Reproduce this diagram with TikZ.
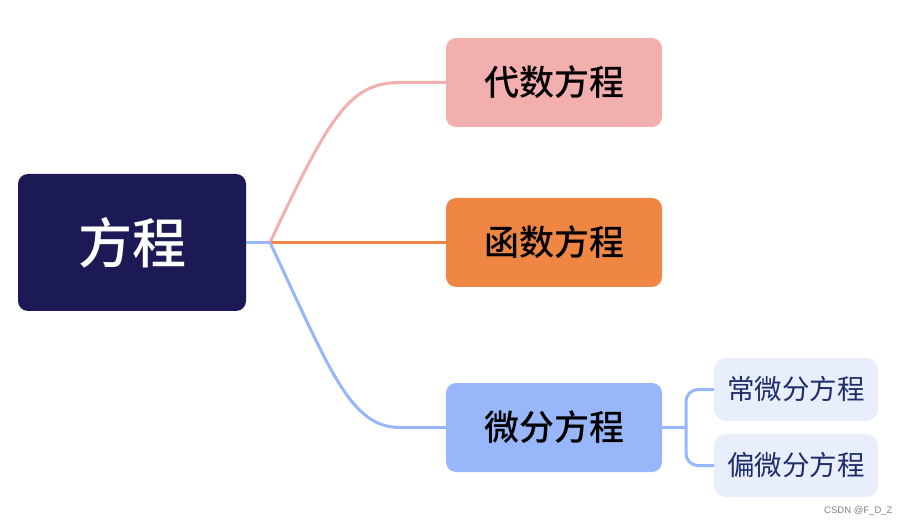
\documentclass[tikz,border=0pt]{standalone}
\usepackage{fontspec}
\setmainfont{Noto Sans CJK SC}
\newfontfamily\cjkmedium{Noto Sans CJK SC Medium}
\setsansfont{Liberation Sans}
\definecolor{rootfill}{HTML}{1B1A55}
\definecolor{algfill}{HTML}{F3AFAD}
\definecolor{funcfill}{HTML}{F08644}
\definecolor{difffill}{HTML}{97B7FA}
\definecolor{subfill}{HTML}{E8EEFC}
\definecolor{subtext}{HTML}{1F2D6B}
\begin{document}
\begin{tikzpicture}[x=1pt,y=-1pt,
    topic/.style={rounded corners=10pt, inner sep=0pt,
      minimum width=216pt, minimum height=89pt,
      font=\cjkmedium\fontsize{35}{40}\selectfont},
    subtopic/.style={rounded corners=12pt, inner sep=0pt, fill=subfill,
      text=subtext, minimum width=164pt, minimum height=63pt,
      font=\fontsize{27.5}{32}\selectfont},
    branch/.style={line width=3pt}]
  \useasboundingbox (0,0) rectangle (910,526);
  \node[fill=rootfill, text=white, rounded corners=10pt, inner sep=0pt,
        minimum width=228pt, minimum height=137pt,
        font=\cjkmedium\fontsize{54}{60}\selectfont] (root) at (132,242.5) {方程};
  \node[topic, fill=algfill] (alg) at (554,82.5) {代数方程};
  \node[topic, fill=funcfill] (func) at (554,242.5) {函数方程};
  \node[topic, fill=difffill] (diff) at (554,427.5) {微分方程};
  \node[subtopic] (ode) at (796,389.5) {常微分方程};
  \node[subtopic] (pde) at (796,465.5) {偏微分方程};
  % main branches
  \coordinate (fork) at (270,242.5);
  \draw[branch, difffill] (root.east) -- (fork);
  \draw[branch, algfill] (fork) .. controls (330,115) and (350,82.5) .. (400,82.5) -- (alg.west);
  \draw[branch, funcfill] (fork) -- (func.west);
  \draw[branch, difffill] (fork) .. controls (330,370) and (350,427.5) .. (400,427.5) -- (diff.west);
  % sub branches
  \coordinate (subfork) at (686,427.5);
  \draw[branch, difffill] (diff.east) -- (subfork);
  \draw[branch, difffill, rounded corners=12pt] (ode.west) -| (subfork) |- (pde.west);
  \node[anchor=east, text=gray, font=\sffamily\fontsize{9.5}{11}\selectfont] (mark) at (896,511) {CSDN @F\_D\_Z};
\end{tikzpicture}
\end{document}
